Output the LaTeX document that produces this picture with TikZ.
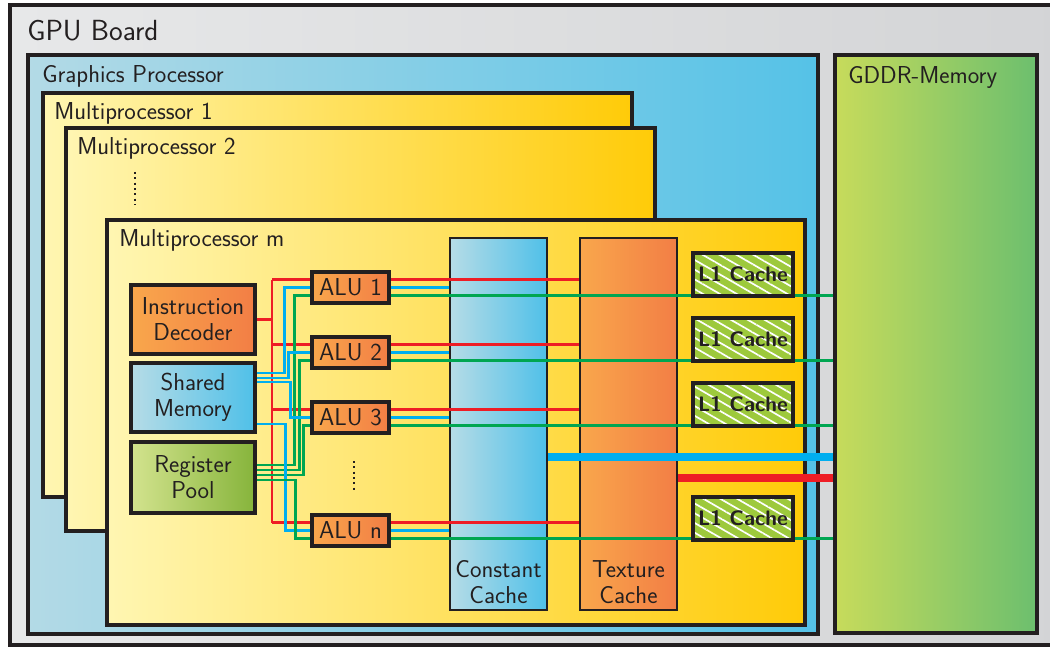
\documentclass[tikz,border=0pt]{standalone}
\usepackage{fontspec}
\usepackage{tikz}
\usetikzlibrary{positioning,calc,patterns.meta}

\definecolor{ink}{HTML}{231F20}
\definecolor{boardL}{HTML}{E7E8E9}
\definecolor{boardR}{HTML}{D3D4D6}
\definecolor{gpL}{HTML}{B3DAE6}
\definecolor{gpR}{HTML}{55C2E7}
\definecolor{mpL}{HTML}{FFF6B2}
\definecolor{mpR}{HTML}{FFCB08}
\definecolor{orL}{HTML}{F9A74C}
\definecolor{orR}{HTML}{F27E45}
\definecolor{blL}{HTML}{B6DCE7}
\definecolor{blR}{HTML}{4FC0E8}
\definecolor{rgL}{HTML}{D3E38E}
\definecolor{rgR}{HTML}{86B43B}
\definecolor{memL}{HTML}{C7DB5B}
\definecolor{memR}{HTML}{6CBF6E}
\definecolor{l1green}{HTML}{9DC93C}
\definecolor{wirered}{HTML}{EE1D25}
\definecolor{wireblue}{HTML}{00AEEF}
\definecolor{wiregreen}{HTML}{00A651}

\begin{document}
\begin{tikzpicture}[x=0.025cm, y=-0.025cm,
    every node/.style={font=\sffamily\fontsize{17.4}{18.5}\selectfont, text=ink},
    frame/.style={draw=ink, line width=2.6pt, inner sep=0pt},
    unit/.style={draw=ink, line width=2.2pt, align=center, inner sep=0pt},
    title/.style={anchor=base west, inner sep=0pt},
    mpfill/.style={left color=mpL, right color=mpR},
    orfill/.style={left color=orL, right color=orR},
    blfill/.style={left color=blL, right color=blR},
    rgfill/.style={left color=rgL, right color=rgR},
    l1box/.style={draw=ink, line width=2.8pt, preaction={fill=l1green},
      pattern={Lines[angle=-30, distance=6pt, line width=1.2pt]}, pattern color=white,
      font=\sffamily\bfseries\fontsize{14.9}{16}\selectfont,
      minimum width=2.5cm, minimum height=1.075cm},
    alubox/.style={unit, orfill, minimum width=1.925cm, minimum height=0.775cm},
    redwire/.style={draw=wirered, line width=2pt},
    bluewire/.style={draw=wireblue, line width=2pt},
    greenwire/.style={draw=wiregreen, line width=2pt},
    bus/.style={line width=5pt},
    dotline/.style={draw=ink, line width=1.4pt, dash pattern=on 1.4pt off 2.4pt}
  ]
  \useasboundingbox (0,0) rectangle (1050,648);

  % GPU board
  \node[frame, line width=2.8pt, left color=boardL, right color=boardR, minimum width=26.5cm, minimum height=16cm] (board) at (540,325) {};
  \node[title, font=\sffamily\fontsize{20.7}{22}\selectfont] (boardlbl) at (27,41) {GPU Board};

  % Graphics processor and memory
  \node[frame, left color=gpL, right color=gpR, minimum width=19.75cm, minimum height=14.475cm] (gp) at (423,344.5) {};
  \node[title] (gplbl) at (42,83) {Graphics Processor};
  \node[frame, left color=memL, right color=memR, minimum width=5.05cm, minimum height=14.45cm] (gddr) at (936,344) {};
  \node[title] (gddrlbl) at (848,84) {GDDR-Memory};

  % Multiprocessors
  \node[frame, mpfill, minimum width=14.725cm, minimum height=10.1cm] (mp1) at (337.5,295) {};
  \node[title] (mp1lbl) at (54,120) {Multiprocessor 1};
  \node[frame, mpfill, minimum width=14.725cm, minimum height=10.075cm] (mp2) at (360.5,329.5) {};
  \node[title] (mp2lbl) at (77,155) {Multiprocessor 2};
  \coordinate (mpdotA) at (135,172);
  \coordinate (mpdotB) at (135,205);
  \draw[dotline] (mpdotA) -- (mpdotB);
  \node[frame, mpfill, minimum width=17.45cm, minimum height=10.125cm] (mpm) at (456,422.5) {};
  \node[title] (mpmlbl) at (119,247) {Multiprocessor m};

  % Units of multiprocessor m
  \node[unit, orfill, minimum width=3.1cm, minimum height=1.725cm] (dec) at (193,319.5) {Instruction\\Decoder};
  \node[unit, blfill, minimum width=3.1cm, minimum height=1.725cm] (shm) at (193,397.5) {Shared\\Memory};
  \node[unit, rgfill, minimum width=3.1cm, minimum height=1.775cm] (reg) at (193,477.5) {Register\\Pool};

  % Caches
  \node[unit, line width=1.8pt, blfill, minimum width=2.425cm, minimum height=9.3cm] (const) at (498.5,424) {};
  \node[align=center, anchor=south, inner sep=0pt] (constlbl) at ($(const.south)+(0,-7)$) {Constant\\Cache};
  \node[unit, line width=1.8pt, orfill, minimum width=2.425cm, minimum height=9.3cm] (tex) at (628.5,424) {};
  \node[align=center, anchor=south, inner sep=0pt] (texlbl) at ($(tex.south)+(0,-7)$) {Texture\\Cache};

  % ALUs
  \node[alubox] (alu1) at (350.5,287.5) {ALU 1};
  \node[alubox] (alu2) at (350.5,352.5) {ALU 2};
  \node[alubox] (alu3) at (350.5,417.5) {ALU 3};
  \node[alubox] (alun) at (350.5,530.5) {ALU n};
  \coordinate (aludotA) at (354,461);
  \coordinate (aludotB) at (354,492);
  \draw[dotline] (aludotA) -- (aludotB);

  % Wires
  \coordinate (rtrunk) at (272,300);
  \draw[redwire] (dec.east) -- (dec.east -| rtrunk);
  \foreach \a in {alu1,alu2,alu3,alun} {
    \coordinate (\a-r) at ([yshift=0.19cm]\a.east);
    \coordinate (\a-b) at ([yshift=-0.01cm]\a.east);
    \coordinate (\a-g) at ([yshift=-0.21cm]\a.east);
    \coordinate (\a-ri) at ([yshift=0.19cm]\a.west);
    \coordinate (\a-bi) at ([yshift=-0.01cm]\a.west);
    \coordinate (\a-gi) at ([yshift=-0.21cm]\a.west);
    \draw[redwire] (\a-r) -- (\a-r -| tex.west);
    \draw[bluewire] (\a-b) -- (\a-b -| const.west);
    \draw[greenwire] (\a-g) -- (\a-g -| gddr.west);
    \draw[redwire] (\a-ri -| rtrunk) -- (\a-ri);
  }
  \draw[redwire] (alu1-ri -| rtrunk) -- (alun-ri -| rtrunk);
  \foreach \a/\sb/\xb/\sg/\xg in {alu1/0.6125cm/28/0.3125cm/38, alu2/0.4875cm/32/0.1875cm/43,
      alu3/0.3875cm/34/0.0625cm/47, alun/-0.6625cm/29/-0.0625cm/39} {
    \draw[bluewire] ([yshift=\sb]shm.east) -- ++(\xb,0) |- (\a-bi);
    \draw[greenwire] ([yshift=\sg]reg.east) -- ++(\xg,0) |- (\a-gi);
  }

  % Buses to memory
  \coordinate (bbus) at (700,457);
  \coordinate (rbus) at (700,478);
  \draw[bus, wireblue] (const.east |- bbus) -- (gddr.west |- bbus);
  \draw[bus, wirered] (tex.east |- rbus) -- (gddr.west |- rbus);

  % L1 caches
  \node[l1box] (l1a) at (743,274.5) {L1 Cache};
  \node[l1box] (l1b) at (743,339.5) {L1 Cache};
  \node[l1box] (l1c) at (743,404.5) {L1 Cache};
  \node[l1box] (l1d) at (743,518.5) {L1 Cache};
\end{tikzpicture}
\end{document}
